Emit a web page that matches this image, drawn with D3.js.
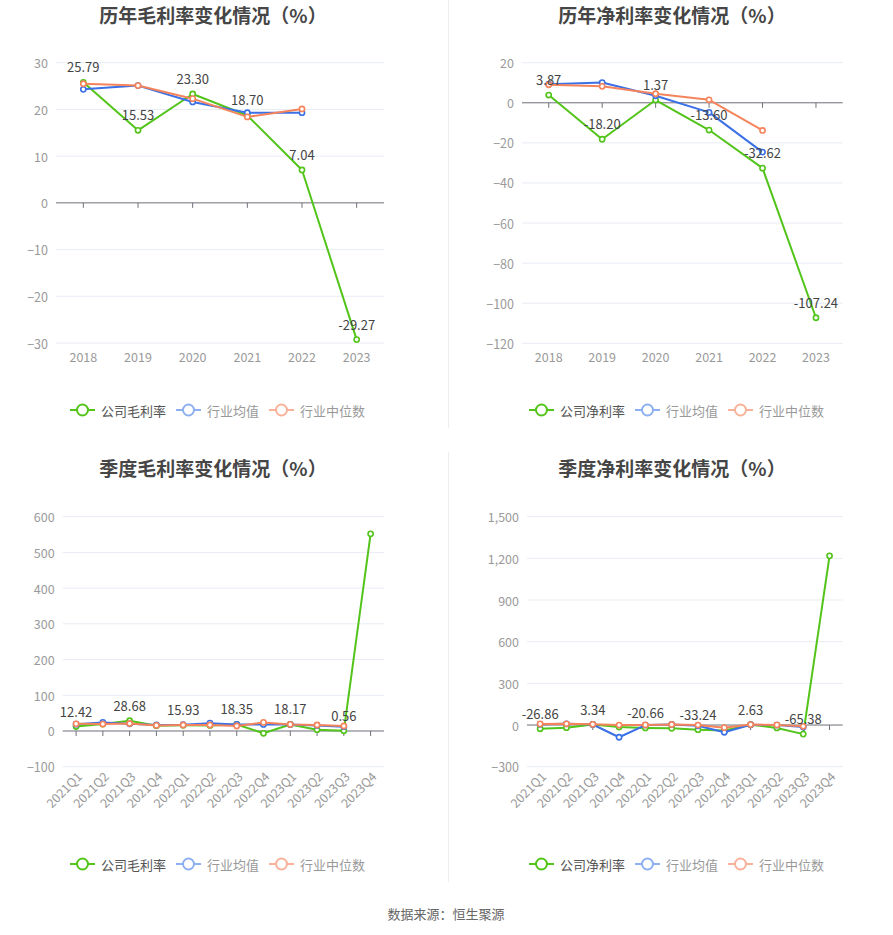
<!DOCTYPE html>
<html><head><meta charset="utf-8">
<script src="https://cdn.jsdelivr.net/npm/d3@7/dist/d3.min.js"></script>
<style>
body{margin:0;background:#fff;}
text{font-family:"Noto Sans CJK SC","Noto Sans",sans-serif;}
</style></head>
<body><svg id="c" width="893" height="935"></svg>
<script>
// ---- data ----
const years = ['2018','2019','2020','2021','2022','2023'];
const grossCompany = [25.79,15.53,23.30,18.70,7.04,-29.27];
const grossAvg = [24.3,25.1,21.6,19.3,19.3];
const grossMedian = [25.5,25.1,22.3,18.4,20.1];
const netCompany = [3.87,-18.20,1.37,-13.60,-32.62,-107.24];
const netAvg = [9.3,10.1,3.5,-4.8,-24.6];
const netMedian = [9.0,8.2,4.5,1.5,-13.8];

const quarters = ['2021Q1','2021Q2','2021Q3','2021Q4','2022Q1','2022Q2','2022Q3','2022Q4','2023Q1','2023Q2','2023Q3','2023Q4'];
const qGrossCompany = [12.42,19.4,28.68,14.8,15.93,15.7,18.35,-6.5,18.17,3.7,0.56,552.0];
const qGrossAvg = [19,24,20,17,17.6,22,18.5,18.5,18.5,15.7,12];
const qGrossMedian = [20,19.4,21,15.7,16.7,16.7,13.9,24,18.5,16.7,13.9];
const qNetCompany = [-26.86,-19,3.34,-14,-20.66,-24,-33.24,-40,2.63,-21,-65.38,1218];
const qNetAvg = [5,9,4,-88,0,4,-5,-52,2,0,-14];
const qNetMedian = [8,9,5,0,1,4,0,-19,3,1,-9];

const ticksGross = [-30,-20,-10,0,10,20,30];
const ticksNet = [-120,-100,-80,-60,-40,-20,0,20];
const ticksQGross = [-100,0,100,200,300,400,500,600];
const ticksQNet = [-300,0,300,600,900,1200,1500];

const titles = ['历年毛利率变化情况（%）','历年净利率变化情况（%）','季度毛利率变化情况（%）','季度净利率变化情况（%）'];
const legendGross = ['公司毛利率','行业均值','行业中位数'];
const legendNet = ['公司净利率','行业均值','行业中位数'];

// ---- style ----
const colors = ['#52c41a','#3b70e6','#f5845c'];
const legendIcon = ['#52c41a','#8fb0f0','#f9b29a'];
const legendText = ['#555','#999','#999'];

const svg = d3.select('#c');

// dividers
svg.append('line').attr('x1',448.5).attr('x2',448.5).attr('y1',0).attr('y2',428).attr('stroke','#eeeeee');
svg.append('line').attr('x1',448.5).attr('x2',448.5).attr('y1',452).attr('y2',882).attr('stroke','#eeeeee');

const panels = [
 {title:titles[0], tx:213, ty:14, cats:years, series:[grossCompany,grossAvg,grossMedian], ticks:ticksGross,
  x0:56, x1:384, yTop:62.7, yBot:343, legend:legendGross, lx:70, ly:410, rotate:false, every:1},
 {title:titles[1], tx:672, ty:14, cats:years, series:[netCompany,netAvg,netMedian], ticks:ticksNet,
  x0:522, x1:842.7, yTop:62.7, yBot:343.3, legend:legendNet, lx:529, ly:410, rotate:false, every:1},
 {title:titles[2], tx:213, ty:467, cats:quarters, series:[qGrossCompany,qGrossAvg,qGrossMedian], ticks:ticksQGross,
  x0:62.7, x1:384, yTop:516.7, yBot:766.7, legend:legendGross, lx:70, ly:864, rotate:true, every:2},
 {title:titles[3], tx:672, ty:467, cats:quarters, series:[qNetCompany,qNetAvg,qNetMedian], ticks:ticksQNet,
  x0:527, x1:842.7, yTop:516.7, yBot:766.7, legend:legendNet, lx:529, ly:864, rotate:true, every:2}
];

panels.forEach(p=>{
  const g = svg.append('g');
  g.append('text').attr('x',p.tx).attr('y',p.ty).attr('text-anchor','middle').attr('dominant-baseline','central')
   .attr('font-size',19).attr('font-weight','bold').attr('fill','#464646').text(p.title);

  const x = d3.scaleBand().domain(p.cats).range([p.x0,p.x1]);
  const y = d3.scaleLinear().domain([d3.min(p.ticks),d3.max(p.ticks)]).range([p.yBot,p.yTop]);
  const cx = d=>x(d)+x.bandwidth()/2;

  // grid
  g.selectAll('.grid').data(p.ticks.filter(t=>t!==0)).join('line')
   .attr('x1',p.x0).attr('x2',p.x1).attr('y1',d=>y(d)).attr('y2',d=>y(d))
   .attr('stroke','#e8ecf4').attr('stroke-width',1);
  // y labels
  const fmt = d3.format(',');
  g.selectAll('.yl').data(p.ticks).join('text')
   .attr('x',p.x0-8).attr('y',d=>y(d)).attr('text-anchor','end').attr('dominant-baseline','central')
   .attr('font-size',12.5).attr('fill','#9a9a9a').text(d=>fmt(d));
  // zero axis
  g.append('line').attr('x1',p.x0).attr('x2',p.x1).attr('y1',y(0)).attr('y2',y(0)).attr('stroke','#6e7079');
  g.selectAll('.tk').data(p.cats).join('line')
   .attr('x1',d=>cx(d)).attr('x2',d=>cx(d)).attr('y1',y(0)).attr('y2',y(0)+5).attr('stroke','#6e7079');
  // x labels
  if(!p.rotate){
    g.selectAll('.xl').data(p.cats).join('text')
     .attr('x',d=>cx(d)).attr('y',p.yBot+13).attr('text-anchor','middle').attr('dominant-baseline','central')
     .attr('font-size',12.5).attr('fill','#9a9a9a').text(d=>d);
  } else {
    g.selectAll('.xl').data(p.cats).join('text')
     .attr('transform',d=>`translate(${cx(d)+3},${p.yBot+7}) rotate(-45)`)
     .attr('text-anchor','end').attr('dominant-baseline','central')
     .attr('font-size',12.5).attr('fill','#9a9a9a').text(d=>d);
  }

  // series
  p.series.forEach((s,si)=>{
    const pts = s.map((v,i)=>[cx(p.cats[i]),y(v)]);
    g.append('path').attr('d',d3.line()(pts)).attr('fill','none')
     .attr('stroke',colors[si]).attr('stroke-width',2).attr('stroke-linejoin','round');
    g.selectAll(null).data(pts).join('circle').attr('cx',d=>d[0]).attr('cy',d=>d[1]).attr('r',2.6)
     .attr('fill','#fff').attr('stroke',colors[si]).attr('stroke-width',1.6);
  });
  // labels for company
  const s0 = p.series[0];
  g.selectAll('.dl').data(s0.map((v,i)=>({v,i})).filter(d=>d.i%p.every===0 && !(p.every===2 && d.i===s0.length-1)))
   .join('text').attr('x',d=>cx(p.cats[d.i])).attr('y',d=>y(d.v)-10)
   .attr('text-anchor','middle').attr('font-size',13).attr('fill','#444')
   .text(d=>d.v.toFixed(2));

  // legend
  let lx = p.lx;
  p.legend.forEach((name,i)=>{
    const lg = g.append('g');
    lg.append('line').attr('x1',lx).attr('x2',lx+25).attr('y1',p.ly).attr('y2',p.ly)
      .attr('stroke',legendIcon[i]).attr('stroke-width',2);
    lg.append('circle').attr('cx',lx+12.5).attr('cy',p.ly).attr('r',5.5).attr('fill','#fff')
      .attr('stroke',legendIcon[i]).attr('stroke-width',2);
    lg.append('text').attr('x',lx+31).attr('y',p.ly).attr('dominant-baseline','central')
      .attr('font-size',13).attr('fill',legendText[i]).text(name);
    lx += 31 + name.length*13 + 10;
  });
});

svg.append('text').attr('x',446).attr('y',913).attr('text-anchor','middle').attr('dominant-baseline','central')
  .attr('font-size',13).attr('fill','#666').text('数据来源：恒生聚源');
</script></body></html>
